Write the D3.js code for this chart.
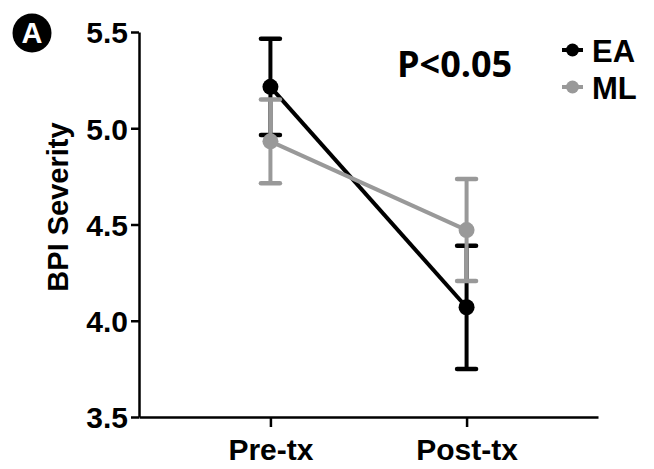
<!DOCTYPE html>
<html>
<head>
<meta charset="utf-8">
<script src="https://cdn.jsdelivr.net/npm/d3@7"></script>
<style>
  body { margin: 0; background: #fff; }
  svg { display: block; }
  text { font-family: "Liberation Sans", Arial, sans-serif; font-weight: bold; }
</style>
</head>
<body>
<div id="chart"></div>
<script>
// data
var timepoints = ["Pre-tx", "Post-tx"];
var groups = ["EA", "ML"];
var eaMean = [5.215, 4.07];
var eaSem = [0.25, 0.32];
var mlMean = [4.932, 4.471];
var mlSem = [0.218, 0.265];
var yTicks = [3.5, 4.0, 4.5, 5.0, 5.5];

var width = 654, height = 469;
var colors = { EA: "#000000", ML: "#999999" };

var svg = d3.select("#chart").append("svg")
  .attr("width", width).attr("height", height);

var x = d3.scalePoint().domain(timepoints).range([139, 598]).padding(0.67);
var y = d3.scaleLinear().domain([3.5, 5.5]).range([417, 32]);

// y axis
var yAxis = svg.append("g").attr("transform", "translate(139,0)")
  .call(d3.axisLeft(y).tickValues(yTicks).tickFormat(d3.format(".1f"))
    .tickSize(8).tickSizeOuter(0).tickPadding(3));
yAxis.select(".domain").attr("stroke-width", 2.5);
yAxis.selectAll(".tick line").attr("stroke-width", 2.5);
yAxis.selectAll(".tick text").attr("font-size", 30).attr("fill", "#000")
  .attr("dy", "0.36em")
  .style("font-family", "'Liberation Sans', Arial, sans-serif").style("font-weight", "bold");

// x axis
var xAxis = svg.append("g").attr("transform", "translate(0,417)")
  .call(d3.axisBottom(x).tickSize(10).tickSizeOuter(0).tickPadding(12));
xAxis.select(".domain").attr("stroke-width", 2.5);
xAxis.selectAll(".tick line").attr("stroke-width", 2.5);
xAxis.selectAll(".tick text").attr("font-size", 30).attr("fill", "#000")
  .style("font-family", "'Liberation Sans', Arial, sans-serif").style("font-weight", "bold");

// y title
svg.append("text")
  .attr("transform", "translate(68,207) rotate(-90)")
  .attr("text-anchor", "middle")
  .attr("font-size", 29)
  .text("BPI Severity");

// series
var series = [
  { name: "EA", mean: eaMean, sem: eaSem },
  { name: "ML", mean: mlMean, sem: mlSem }
];

var line = d3.line()
  .x(function(d, i) { return x(timepoints[i]); })
  .y(function(d) { return y(d); });

series.forEach(function(s) {
  var g = svg.append("g");
  var c = colors[s.name];
  // error bars
  s.mean.forEach(function(m, i) {
    var cx = x(timepoints[i]);
    g.append("line").attr("x1", cx).attr("x2", cx)
      .attr("y1", y(m + s.sem[i])).attr("y2", y(m - s.sem[i]))
      .attr("stroke", c).attr("stroke-width", 4);
    [m + s.sem[i], m - s.sem[i]].forEach(function(v) {
      g.append("line").attr("x1", cx - 9.5).attr("x2", cx + 9.5)
        .attr("y1", y(v)).attr("y2", y(v))
        .attr("stroke", c).attr("stroke-width", 4.5).attr("stroke-linecap", "round");
    });
  });
  g.append("path").datum(s.mean).attr("d", line)
    .attr("fill", "none").attr("stroke", c).attr("stroke-width", 4);
  g.selectAll("circle").data(s.mean).enter().append("circle")
    .attr("cx", function(d, i) { return x(timepoints[i]); })
    .attr("cy", function(d) { return y(d); })
    .attr("r", 8).attr("fill", c);
});

// legend
groups.forEach(function(name, i) {
  var ly = 50 + i * 37;
  svg.append("line").attr("x1", 562).attr("x2", 583).attr("y1", ly).attr("y2", ly)
    .attr("stroke", colors[name]).attr("stroke-width", 4);
  svg.append("circle").attr("cx", 572.5).attr("cy", ly).attr("r", 6.5).attr("fill", colors[name]);
  svg.append("text").attr("x", 592).attr("y", ly + 12).attr("font-size", 31).text(name);
});

// annotation
svg.append("text").attr("x", 397).attr("y", 77)
  .style("font-family", "'Open Sans', sans-serif").attr("font-size", 36)
  .text("P<0.05");

// panel letter
svg.append("circle").attr("cx", 32).attr("cy", 33).attr("r", 19.5).attr("fill", "#000");
svg.append("text").attr("x", 32).attr("y", 43).attr("text-anchor", "middle")
  .attr("font-size", 29).attr("fill", "#fff").text("A");
</script>
</body>
</html>
